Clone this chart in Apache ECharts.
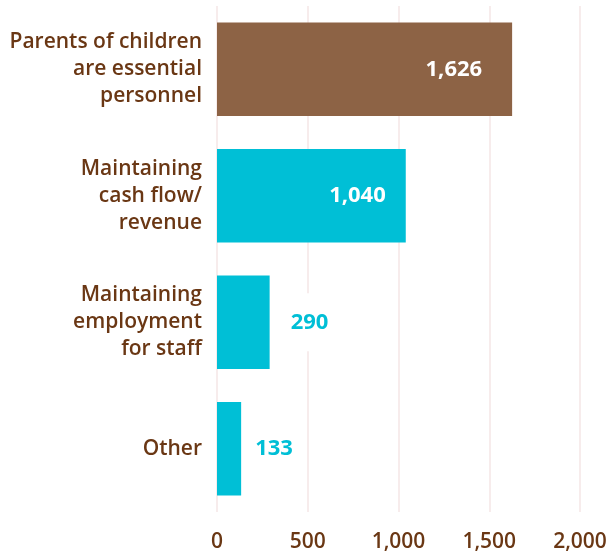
<!DOCTYPE html>
<html>
<head>
<meta charset="utf-8">
<script src="https://cdn.jsdelivr.net/npm/echarts@6/dist/echarts.min.js"></script>
<style>
  html, body { margin: 0; padding: 0; background: #fff; }
  #chart { width: 611px; height: 557px; }
</style>
</head>
<body>
<div id="chart"></div>
<script>
// categories top to bottom
const categories = [
  'Parents of children\nare essential\npersonnel',
  'Maintaining\ncash flow/\nrevenue',
  'Maintaining\nemployment\nfor staff',
  'Other'
]
const values = [1626, 1040, 290, 133]
const xTicks = [0, 500, 1000, 1500, 2000]

const brown = '#8D6345'
const cyan = '#00BFD6'
const textBrown = '#6A3714'
const fontFamily = 'Open Sans'

// big bars get the number inside, small ones outside
let barData = values.map((v, i) => {
  let inside = v > 600
  return {
    value: v,
    itemStyle: { color: i === 0 ? brown : cyan },
    label: inside ? {
      position: 'insideRight',
      distance: i === 0 ? 30 : 20,
      color: '#fff'
    } : {
      position: 'right',
      distance: v > 200 ? 18 : 11,
      color: cyan,
      backgroundColor: '#fff',
      padding: [18, 3]
    }
  }
})

let chartInstance = echarts.init(document.getElementById('chart'))
chartInstance.setOption({
  animation: false,
  grid: {
    left: 217,
    right: 31,
    top: 6,
    bottom: 45
  },
  xAxis: {
    type: 'value',
    min: xTicks[0],
    max: xTicks[xTicks.length - 1],
    interval: 500,
    axisLine: { show: false },
    axisTick: { show: false },
    axisLabel: {
      margin: 20,
      color: textBrown,
      fontFamily: fontFamily,
      fontSize: 21,
      fontWeight: 600,
      formatter: v => v.toLocaleString('en-US')
    },
    splitLine: {
      lineStyle: { color: '#F4E6E6', width: 1.5 }
    }
  },
  yAxis: {
    type: 'category',
    inverse: true,
    data: categories,
    axisLine: { show: false },
    axisTick: { show: false },
    axisLabel: {
      margin: 15,
      color: textBrown,
      fontFamily: fontFamily,
      fontSize: 21,
      fontWeight: 600,
      lineHeight: 27,
      align: 'right'
    }
  },
  series: [
    {
      type: 'bar',
      data: barData,
      barCategoryGap: '26%',
      label: {
        show: true,
        fontFamily: fontFamily,
        fontSize: 22,
        fontWeight: 'bold',
        formatter: p => p.value.toLocaleString('en-US')
      }
    }
  ]
})
</script>
</body>
</html>
